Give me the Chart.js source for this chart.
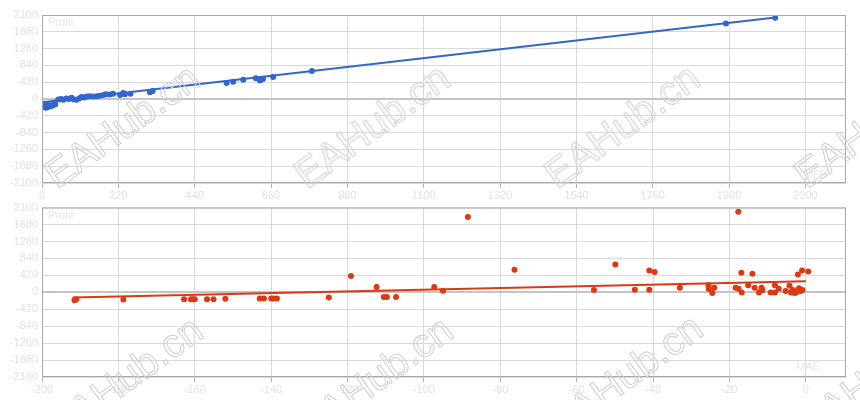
<!DOCTYPE html>
<html>
<head>
<meta charset="utf-8">
<script src="https://cdn.jsdelivr.net/npm/chart.js@4.4.1/dist/chart.umd.min.js"></script>
<style>
  html, body { margin: 0; padding: 0; background: #fff; }
  #wrap { position: relative; width: 860px; height: 400px; overflow: hidden; font-family: "Liberation Sans", Arial, sans-serif; }
  .box { position: absolute; left: 0; width: 860px; }
  .lbl { position: absolute; font-size: 11px; color: #e8e8e8; }
  .wm { position: absolute; font-size: 40px; color: transparent; -webkit-text-stroke: 1px #cfcfcf;
        transform: translate(-50%, -50%) rotate(-36deg); white-space: nowrap; pointer-events: none; }
</style>
</head>
<body>
<div id="wrap">
  <div class="box" style="top:0;height:200px"><canvas id="chartMfe"></canvas></div>
  <div class="box" style="top:197px;height:203px"><canvas id="chartMae"></canvas></div>
  <div class="lbl" style="left:48px;top:16px">Profit</div>
  <div class="lbl" style="left:804px;top:168px">MFE</div>
  <div class="lbl" style="left:48px;top:209px">Profit</div>
  <div class="lbl" style="left:796px;top:360px">MAE</div>
  <div class="wm" style="left:122px;top:126px">EAHub.cn</div>
  <div class="wm" style="left:372px;top:126px">EAHub.cn</div>
  <div class="wm" style="left:622px;top:126px">EAHub.cn</div>
  <div class="wm" style="left:872px;top:126px">EAHub.cn</div>
  <div class="wm" style="left:125px;top:378px">EAHub.cn</div>
  <div class="wm" style="left:375px;top:378px">EAHub.cn</div>
  <div class="wm" style="left:625px;top:376px">EAHub.cn</div>
  <div class="wm" style="left:875px;top:376px">EAHub.cn</div>
</div>
<script>
// MFE vs Profit
const mfeX = [3, 5, 8, 10, 12, 15, 18, 20, 25, 30, 35, 38,
    47, 55, 62, 70, 78, 85, 92, 100, 108, 114, 122, 129, 138, 148, 158, 167, 177, 184, 195, 205,
    225, 234, 239, 255, 311, 319, 532, 551, 580, 616, 628, 637, 666, 778, 1971, 2113];
const mfeProfit = [-150, -200, -180, -130, -220, -170, -200, -150, -180, -160, -120, -140,
    -10, 0, -20, 10, 0, 30, -10, -20, 20, 50, 40, 60, 70, 60, 70, 80, 100, 120, 110, 130,
    100, 150, 120, 130, 170, 200, 400, 430, 480, 520, 460, 500, 550, 700, 1890, 2030];
const mfeTrendX = [0, 2113];
const mfeTrendY = [-80, 2040];

// MAE vs Profit
const maeX = [-191.5, -191, -178.7, -162.8, -161, -160.4, -160, -156.8, -155.1, -152,
    -143, -141.9, -140, -139.3, -138.5, -124.9, -119.1, -112.4, -110.5, -109.7, -107.3,
    -97.3, -95, -88.5, -76.3, -55.5, -49.9, -44.8, -41, -41, -39.6, -33,
    -25.5, -25.4, -24.5, -24, -18.4, -17.7, -17.6, -16.8, -16.9, -15.1, -14, -13.4,
    -12.3, -11.6, -11.4, -9.2, -8.1, -8.1, -7.1, -5.3, -4.3, -3.9, -3.4, -2.9, -2.5,
    -2.1, -1.8, -1.4, -1, -0.9, 0.6];
const maeProfit = [-200, -170, -180, -173, -173, -173, -173, -173, -173, -160,
    -155, -155, -155, -155, -155, -131, 403, 131, -115, -115, -115,
    131, 41, 1868, 560, 57, 691, 65, 543, 65, 501, 115,
    173, 82, -17, 115, 115, 2000, 90, -8, 486, 173, 460, 115,
    -8, 115, 50, -8, -8, 173, 90, 33, 160, -8, 60, -17, 0,
    444, 100, 30, 543, 60, 518];
const maeTrendX = [-192, 0];
const maeTrendY = [-131, 272];

const yTicks = [-2100, 2100, 420];
const labelColor = '#e2e2e2';

function pairs(xs, ys) {
    return xs.map((x, i) => ({ x: x, y: ys[i] }));
}

const frame = {
    id: 'frame',
    afterDraw(chart) {
        const a = chart.chartArea;
        const ctx = chart.ctx;
        ctx.save();
        ctx.strokeStyle = '#a8a8a8';
        ctx.lineWidth = 1;
        ctx.strokeRect(a.left + 0.5, a.top + 0.5, a.right - a.left - 1, a.bottom - a.top - 1);
        ctx.restore();
    }
};

function makeChart(id, color, pts, trend, xMin, xMax, xStep, padTop, axisH) {
    return new Chart(document.getElementById(id), {
        type: 'scatter',
        data: {
            datasets: [{
                data: pts,
                backgroundColor: color,
                borderColor: color,
                pointRadius: 3,
                pointHoverRadius: 3,
                borderWidth: 0
            }, {
                data: trend,
                showLine: true,
                borderColor: color,
                borderWidth: 2,
                pointRadius: 0
            }]
        },
        options: {
            responsive: true,
            maintainAspectRatio: false,
            animation: false,
            devicePixelRatio: 1,
            layout: { padding: { top: padTop, right: 14, left: 0, bottom: 0 } },
            plugins: { legend: { display: false }, tooltip: { enabled: false } },
            scales: {
                x: {
                    type: 'linear',
                    min: xMin,
                    max: xMax,
                    afterFit: (s) => { s.height = axisH; },
                    border: { display: false },
                    grid: { color: '#d9d9d9', tickLength: 5, tickColor: '#b0b0b0' },
                    ticks: {
                        stepSize: xStep,
                        includeBounds: false,
                        color: labelColor,
                        font: { family: 'Liberation Sans', size: 11 },
                        padding: 1,
                        maxRotation: 0,
                        callback: (v) => String(v)
                    }
                },
                y: {
                    min: yTicks[0],
                    max: yTicks[1],
                    afterFit: (s) => { s.width = 42; },
                    border: { display: false },
                    grid: {
                        drawTicks: false,
                        color: (c) => c.tick && c.tick.value === 0 ? '#c4c4c4' : '#d9d9d9',
                        lineWidth: (c) => c.tick && c.tick.value === 0 ? 2 : 1
                    },
                    ticks: {
                        stepSize: yTicks[2],
                        color: labelColor,
                        font: { family: 'Liberation Sans', size: 11 },
                        padding: 4,
                        callback: (v) => String(v)
                    }
                }
            }
        },
        plugins: [frame]
    });
}

document.addEventListener('DOMContentLoaded', function() {
    makeChart('chartMfe', '#3366cc', pairs(mfeX, mfeProfit), pairs(mfeTrendX, mfeTrendY), 0, 2317, 220, 15, 17);
    makeChart('chartMae', '#dc3912', pairs(maeX, maeProfit), pairs(maeTrendX, maeTrendY), -200, 10.5, 20, 3, 23);
});
</script>
</body>
</html>
